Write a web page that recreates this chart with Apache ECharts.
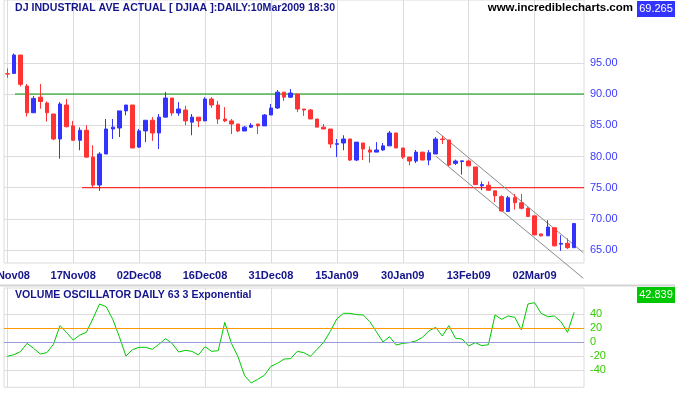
<!DOCTYPE html>
<html>
<head>
<meta charset="utf-8">
<script src="https://cdn.jsdelivr.net/npm/echarts@6/dist/echarts.min.js"></script>
<style>
html,body{margin:0;padding:0;background:#fff;}
#c{width:675px;height:395px;}
</style>
</head>
<body>
<div id="c"></div>
<script>
// ---- data ----
const dates = ['03Nov08','04Nov08','05Nov08','06Nov08','07Nov08','10Nov08','11Nov08','12Nov08','13Nov08','14Nov08',
'17Nov08','18Nov08','19Nov08','20Nov08','21Nov08','24Nov08','25Nov08','26Nov08','28Nov08','01Dec08',
'02Dec08','03Dec08','04Dec08','05Dec08','08Dec08','09Dec08','10Dec08','11Dec08','12Dec08','15Dec08',
'16Dec08','17Dec08','18Dec08','19Dec08','22Dec08','23Dec08','24Dec08','26Dec08','29Dec08','30Dec08',
'31Dec08','02Jan09','05Jan09','06Jan09','07Jan09','08Jan09','09Jan09','12Jan09','13Jan09','14Jan09',
'15Jan09','16Jan09','20Jan09','21Jan09','22Jan09','23Jan09','26Jan09','27Jan09','28Jan09','29Jan09',
'30Jan09','02Feb09','03Feb09','04Feb09','05Feb09','06Feb09','09Feb09','10Feb09','11Feb09','12Feb09',
'13Feb09','17Feb09','18Feb09','19Feb09','20Feb09','23Feb09','24Feb09','25Feb09','26Feb09','27Feb09',
'02Mar09','03Mar09','04Mar09','05Mar09','06Mar09','09Mar09','10Mar09',''];

const opens  = [93.25,93.3,96.24,91.28,87.0,89.5,88.56,86.8,82.8,88.24,
84.9,82.6,84.2,79.9,75.43,80.4,84.4,84.56,87.3,88.24,
81.5,84.1,85.8,83.76,86.3,89.36,86.96,87.44,85.5,86.3,
85.7,89.2,88.24,86.0,85.7,85.2,84.08,84.7,85.2,84.9,
86.64,87.76,90.3,89.5,90.0,87.6,87.44,86.0,84.7,84.4,
81.95,82.16,82.8,79.43,82.16,81.04,80.7,81.04,81.7,83.76,
81.36,79.9,79.27,80.7,79.43,80.4,82.8,82.64,78.9,79.2,
79.27,78.32,75.3,75.4,74.5,73.57,71.2,73.4,72.6,71.7,
70.5,67.6,67.3,68.6,65.97,66.1,65.4];
const closes = [93.2,96.24,91.55,87.0,89.3,88.8,87.0,82.8,88.4,84.77,
82.6,84.2,79.9,75.43,80.4,84.4,84.7,87.3,88.24,81.36,
84.1,85.8,83.76,86.3,89.36,86.96,87.6,85.7,86.3,85.7,
89.2,88.24,86.0,85.7,85.2,84.08,84.7,85.0,84.9,86.64,
87.76,90.3,89.5,90.16,87.6,87.44,86.0,84.7,84.4,82.0,
82.05,82.8,79.43,82.3,81.2,80.7,81.04,81.7,83.76,81.36,
79.9,79.27,80.7,79.43,80.6,82.8,82.7,78.64,79.27,79.3,
78.5,75.5,75.5,74.6,73.7,71.27,73.4,72.6,71.7,70.4,
67.45,67.3,68.7,65.7,66.1,65.4,69.265];
const lows   = [92.6,93.3,91.2,86.4,87.0,87.65,85.6,82.6,79.65,84.66,
82.5,81.0,79.75,75.0,74.5,80.4,82.8,83.1,86.6,81.36,
81.36,82.3,82.5,81.2,86.3,86.5,86.5,85.0,83.4,84.7,
85.7,87.8,85.2,85.5,83.6,83.9,84.08,84.56,83.6,84.9,
86.64,87.6,88.9,89.36,87.1,86.5,86.0,84.7,84.4,81.36,
79.9,81.0,79.27,79.27,79.43,79.0,80.7,80.9,81.7,81.36,
79.6,78.6,78.95,79.43,78.6,80.4,82.0,78.4,78.64,77.1,
78.5,75.5,74.6,74.5,72.7,71.27,71.2,71.5,71.5,70.4,
67.45,67.2,67.3,65.6,64.9,65.2,65.4];
const highs  = [94.1,96.5,96.24,91.6,89.7,91.6,88.8,86.8,88.7,89.2,
85.7,84.66,85.0,81.8,80.7,86.0,86.0,87.3,88.24,88.24,
84.4,85.8,86.3,86.8,90.3,89.36,88.7,88.1,86.8,86.3,
89.5,89.5,88.9,87.9,86.0,85.2,84.9,85.36,85.2,86.8,
88.4,90.64,90.3,90.8,90.0,87.6,87.6,86.0,85.2,84.4,
82.8,83.4,82.8,82.3,82.16,81.6,82.3,82.16,84.1,83.76,
81.36,79.9,81.04,80.7,81.04,83.1,83.3,82.64,79.5,79.3,
79.5,78.32,76.0,76.0,74.5,73.8,73.7,74.0,74.0,71.86,
70.5,67.6,69.8,68.6,67.4,66.9,69.265];

const volOsc = [-20.0,-17.7,-13.4,-1.5,-8.6,-16.7,-14.8,-2.9,23.8,13.8,
3.3,10.4,14.2,34.0,54.7,50.9,32.8,8.0,-19.6,-10.5,
-7.2,-7.2,-10.0,-2.9,5.2,-1.5,-13.9,-11.5,-12.9,-18.1,
-6.2,-12.9,-12.0,28.5,-1.5,-20.5,-47.6,-58.1,-52.9,-47.2,
-34.3,-30.0,-23.9,-23.4,-12.9,-14.8,-20.0,-10.0,0.0,15.5,
33.5,41.4,41.4,39.5,39.0,29.5,15.2,0.4,8.0,-3.9,
-1.5,-0.5,1.9,7.1,16.6,21.4,9.0,23.8,5.7,4.7,
-5.3,-0.5,-4.8,-3.4,39.0,32.8,37.6,35.7,17.6,54.7,
56.6,41.4,36.6,37.6,29.5,14.2,42.839];

const priceTicks = [65, 95, 5];      // min, max, step of price labels
const oscTicks = [-40, 40, 20];      // min, max, step of oscillator labels
const resistance = [[1.17, 90], [87.5, 90]];
const support = [[11.34, 75], [87.5, 75]];
const channelUpper = [[65.05, 84.13], [87.4, 64.6]];
const channelLower = [[65.05, 80.03], [87.4, 60.5]];
const oscLevels = [20, 0];

const titleText = 'DJ INDUSTRIAL AVE ACTUAL [ DJIAA ]:DAILY:10Mar2009 18:30';
const siteText = 'www.incrediblecharts.com';
const oscTitle = 'VOLUME OSCILLATOR DAILY 63 3 Exponential';

// ---- chart ----
const FONT = 'Liberation Sans, Arial, sans-serif';
const GRID = '#dcdcdc';
const NAVY = '#14148c';
const candles = opens.map((o, i) => [o, closes[i], lows[i], highs[i]]);

const chart = echarts.init(document.getElementById('c'), null, {renderer: 'canvas'});
const gridBase = {containLabel: false, outerBoundsMode: 'none'};
chart.setOption({
  animation: false,
  backgroundColor: '#ffffff',
  grid: [
    Object.assign({left: 4, top: 0, width: 580, height: 263, show: true, borderColor: GRID, borderWidth: 1}, gridBase),
    Object.assign({left: 4, top: 62.8, width: 580, height: 187.4}, gridBase),
    Object.assign({left: 4, top: 288, width: 580, height: 99.3, show: true, borderColor: GRID, borderWidth: 1}, gridBase),
    Object.assign({left: 4, top: 314.3, width: 580, height: 56}, gridBase)
  ],
  xAxis: [
    {gridIndex: 0, type: 'category', data: dates, boundaryGap: true,
     axisLine: {show: false}, axisTick: {show: false},
     axisLabel: {interval: 9, color: NAVY, fontFamily: FONT, fontSize: 11, fontWeight: 'bold', margin: 7, hideOverlap: false},
     splitLine: {show: true, interval: 9, alignWithLabel: true, lineStyle: {color: GRID, width: 1}}},
    {gridIndex: 0, type: 'value', min: -0.5, max: 87.5, show: false},
    {gridIndex: 1, type: 'value', show: false},
    {gridIndex: 2, type: 'category', data: dates, boundaryGap: true,
     axisLine: {show: false},
     axisTick: {show: true, interval: 9, alignWithLabel: true, length: 4, lineStyle: {color: GRID}},
     axisLabel: {show: false},
     splitLine: {show: true, interval: 9, alignWithLabel: true, lineStyle: {color: GRID, width: 1}}},
    {gridIndex: 3, type: 'value', show: false}
  ],
  yAxis: [
    {gridIndex: 0, type: 'value', min: 62.95, max: 105.05, show: false},
    {gridIndex: 1, type: 'value', position: 'right', min: priceTicks[0], max: priceTicks[1], interval: priceTicks[2],
     axisLine: {show: false},
     axisTick: {show: true, length: 6, lineStyle: {color: GRID}},
     axisLabel: {color: '#3a3aff', fontFamily: FONT, fontSize: 11, margin: 6, formatter: v => v.toFixed(2)},
     splitLine: {show: true, lineStyle: {color: GRID, width: 1}}},
    {gridIndex: 2, type: 'value', min: -64.29, max: 77.57, show: false},
    {gridIndex: 3, type: 'value', position: 'right', min: oscTicks[0], max: oscTicks[1], interval: oscTicks[2],
     axisLine: {show: false},
     axisTick: {show: true, length: 6, lineStyle: {color: GRID}},
     axisLabel: {color: '#33cc00', fontFamily: FONT, fontSize: 11, margin: 6},
     splitLine: {show: true, lineStyle: {color: GRID, width: 1}}}
  ],
  series: [
    {type: 'line', xAxisIndex: 1, yAxisIndex: 0, data: resistance, symbol: 'none', silent: true,
     lineStyle: {color: '#009900', width: 1}, z: 3},
    {type: 'line', xAxisIndex: 1, yAxisIndex: 0, data: support, symbol: 'none', silent: true,
     lineStyle: {color: '#ff0000', width: 1}, z: 3},
    {type: 'line', xAxisIndex: 1, yAxisIndex: 0, data: channelUpper, symbol: 'none', silent: true, clip: false,
     lineStyle: {color: '#8a8a8a', width: 1}, z: 3},
    {type: 'line', xAxisIndex: 1, yAxisIndex: 0, data: channelLower, symbol: 'none', silent: true, clip: false,
     lineStyle: {color: '#8a8a8a', width: 1}, z: 3},
    {type: 'candlestick', xAxisIndex: 0, yAxisIndex: 0, data: candles, barWidth: 4, silent: true, z: 4,
     itemStyle: {color: '#3333ff', color0: '#ff3333', borderColor: '#3333ff', borderColor0: '#ff3333', borderWidth: 1}},
    {type: 'line', xAxisIndex: 3, yAxisIndex: 2, data: volOsc, symbol: 'none', silent: true, z: 4,
     lineStyle: {color: '#00c800', width: 1},
     markLine: {silent: true, symbol: 'none', label: {show: false},
       data: [
         {yAxis: oscLevels[0], lineStyle: {color: '#ff9900', width: 1, type: 'solid'}},
         {yAxis: oscLevels[1], lineStyle: {color: '#9999dd', width: 1, type: 'solid'}}
       ]}}
  ],
  graphic: [
    {type: 'rect', left: 0, top: 284.5, shape: {width: 675, height: 2}, style: {fill: '#d4d4d4'}, z: 10},
    {type: 'text', x: 15, y: 8, style: {text: titleText, font: 'bold 10.6px ' + FONT, fill: NAVY, textVerticalAlign: 'middle'}, z: 10},
    {type: 'text', x: 633, y: 8, style: {text: siteText, font: 'bold 11.5px ' + FONT, fill: '#000000', textAlign: 'right', textVerticalAlign: 'middle'}, z: 10},
    {type: 'rect', shape: {x: 637, y: 1, width: 38, height: 16}, style: {fill: '#3333ff'}, z: 10},
    {type: 'text', x: 656, y: 9, style: {text: closes[closes.length - 1].toFixed(3), font: '11px ' + FONT, fill: '#ffffff', textAlign: 'center', textVerticalAlign: 'middle'}, z: 11},
    {type: 'text', x: 15, y: 295, style: {text: oscTitle, font: 'bold 10.6px ' + FONT, fill: NAVY, textVerticalAlign: 'middle'}, z: 10},
    {type: 'rect', shape: {x: 637, y: 287, width: 38, height: 16}, style: {fill: '#00c800'}, z: 10},
    {type: 'text', x: 656, y: 295, style: {text: volOsc[volOsc.length - 1].toFixed(3), font: '11px ' + FONT, fill: '#ffffff', textAlign: 'center', textVerticalAlign: 'middle'}, z: 11}
  ]
});
</script>
</body>
</html>
